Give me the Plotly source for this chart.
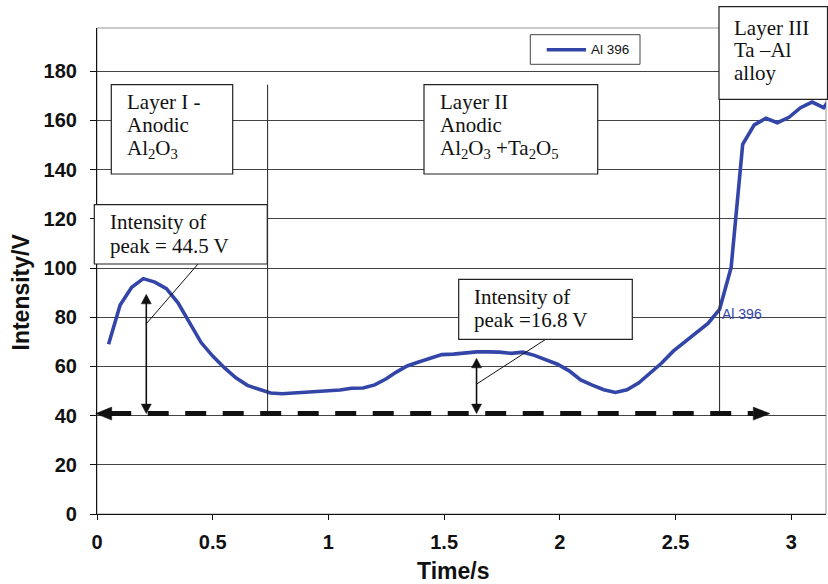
import plotly.graph_objects as go

# Al 396 emission intensity during the depth profile
time_s = [0.05, 0.10, 0.15, 0.20, 0.25, 0.30, 0.35, 0.40, 0.45, 0.50,
          0.55, 0.60, 0.65, 0.70, 0.75, 0.80, 0.85, 0.90, 0.95, 1.00,
          1.05, 1.10, 1.15, 1.20, 1.25, 1.29, 1.34, 1.39, 1.44, 1.49,
          1.54, 1.59, 1.64, 1.69, 1.74, 1.79, 1.84, 1.89, 1.94, 1.99,
          2.04, 2.09, 2.14, 2.19, 2.24, 2.29, 2.34, 2.39, 2.44, 2.49,
          2.54, 2.59, 2.64, 2.69, 2.74, 2.79, 2.84, 2.89, 2.94, 2.99,
          3.04, 3.09, 3.14, 3.19]
al396 = [69.0, 85.0, 92.2, 95.7, 94.3, 91.6, 85.9, 77.8, 69.7, 64.2,
         59.5, 55.4, 52.3, 50.7, 49.2, 48.9, 49.2, 49.6, 50.1, 50.3,
         50.4, 51.1, 51.2, 52.5, 55.0, 57.5, 60.2, 61.8, 63.4, 64.8,
         65.0, 65.4, 65.9, 65.9, 65.8, 65.3, 65.8, 64.5, 62.8, 60.9,
         58.2, 54.5, 52.4, 50.5, 49.4, 50.5, 53.2, 57.2, 61.4, 66.2,
         70.0, 73.8, 77.5, 83.2, 100.2, 150.3, 158.2, 160.9, 159.1, 161.3,
         165.2, 167.5, 165.2, 172.0]
series_name = "Al 396"

y_ticks = [0, 20, 40, 60, 80, 100, 120, 140, 160, 180]
x_ticks = [0, 0.5, 1, 1.5, 2, 2.5, 3]
x_tick_labels = ["0", "0.5", "1", "1.5", "2", "2.5", "3"]

# layer boundaries (s), baseline level and peak arrows (time, tip level)
layer_bounds = [0.737, 2.69]
baseline = 40
peak_arrows = [(0.213, 89.3), (1.64, 63.3)]
label_time = 2.69

W, H = 828, 584
L, R, T, B = 97, 826, 28, 514
X_RANGE = [0, 3.15]
Y_RANGE = [0, 197.6]
BLUE = "#3346A8"
SERIF = "Liberation Serif, Times New Roman, serif"
SANS = "Liberation Sans, Arial, sans-serif"


def xpx(v):
    return L + (v - X_RANGE[0]) / (X_RANGE[1] - X_RANGE[0]) * (R - L)


def ypx(v):
    return B - (v - Y_RANGE[0]) / (Y_RANGE[1] - Y_RANGE[0]) * (B - T)


def pxp(p):
    return (p - L) / (R - L)


def pyp(p):
    return (B - p) / (B - T)


fig = go.Figure()
fig.add_trace(go.Scatter(
    x=time_s, y=al396, mode="lines", name=series_name,
    line=dict(color=BLUE, width=3.6), showlegend=False,
))

shapes = []


def line_px(x0, y0, x1, y1, color="#111", width=1.0, dash=None):
    d = dict(type="line", xref="paper", yref="paper",
             x0=pxp(x0), y0=pyp(y0), x1=pxp(x1), y1=pyp(y1),
             line=dict(color=color, width=width), layer="above")
    if dash:
        d["line"]["dash"] = dash
    shapes.append(d)


def rect_px(x0, y0, x1, y1, color="#222", width=1.2):
    shapes.append(dict(type="rect", xref="paper", yref="paper",
                       x0=pxp(x0), y0=pyp(y0), x1=pxp(x1), y1=pyp(y1),
                       line=dict(color=color, width=width),
                       fillcolor="white", layer="above"))


def tri_px(pts, color="#111"):
    path = "M " + " L ".join(f"{pxp(a):.5f},{pyp(b):.5f}" for a, b in pts) + " Z"
    shapes.append(dict(type="path", xref="paper", yref="paper", path=path,
                       fillcolor=color, line=dict(color=color, width=0.5),
                       layer="above"))


# plot-area frame (top and right edges grey)
shapes.append(dict(type="rect", xref="paper", yref="paper", x0=0, y0=0, x1=1, y1=1,
                   line=dict(color="#999", width=1), layer="below"))

# layer boundaries
base_y = ypx(baseline) - 2
line_px(xpx(layer_bounds[0]), 84.7, xpx(layer_bounds[0]), base_y, "#333", 1.1)
line_px(xpx(layer_bounds[1]), 99.3, xpx(layer_bounds[1]), base_y, "#333", 1.1)

# dashed baseline with arrowheads at both ends
line_px(110.2, base_y, 753.5, base_y, "#111", 5, dash="21px,16.5px")
tri_px([(95.7, base_y), (111.7, base_y - 6.5), (111.7, base_y + 6.5)])
tri_px([(770, base_y), (753.3, base_y - 6.5), (753.3, base_y + 6.5)])

# double-headed arrows giving the peak intensities
for t, tip in peak_arrows:
    xa = xpx(t)
    top = ypx(tip)
    line_px(xa, top + 6, xa, base_y - 6, "#111", 1.6)
    tri_px([(xa, top), (xa - 5, top + 9.5), (xa + 5, top + 9.5)])
    tri_px([(xa, base_y), (xa - 5, base_y - 9.5), (xa + 5, base_y - 9.5)])

# leader lines from note boxes
line_px(198, 264, 146.7, 323.3, "#111", 1)
line_px(545.7, 339.3, 476.7, 384, "#111", 1)

# note boxes
rect_px(111.3, 84.7, 232.7, 174)
rect_px(424, 84.7, 597.7, 174)
rect_px(719, 6.7, 827.5, 99.3)
rect_px(94.3, 204.7, 267.3, 264)
rect_px(458.7, 279.3, 632.3, 339.3)

# legend box
rect_px(530.3, 34.7, 640, 64.3, "#444", 1)
line_px(546.7, 49.7, 586, 49.7, BLUE, 3.6)

annotations = []
FS = 21


def text_lines(x_left, baselines, lines):
    for yb, txt in zip(baselines, lines):
        annotations.append(dict(
            xref="paper", yref="paper", x=pxp(x_left - 1), y=pyp(yb - 0.3375 * FS),
            xanchor="left", yanchor="middle", showarrow=False, text=txt,
            font=dict(family=SERIF, size=FS, color="#111"),
        ))


text_lines(126, [109, 132.5, 156], ["Layer I -", "Anodic", "Al<sub>2</sub>O<sub>3</sub>"])
text_lines(438.7, [109, 132.5, 156],
           ["Layer II", "Anodic", "Al<sub>2</sub>O<sub>3</sub> +Ta<sub>2</sub>O<sub>5</sub>"])
text_lines(733.3, [35, 57.5, 80], ["Layer III", "Ta –Al", "alloy"])
text_lines(109.3, [229.3, 252.7], ["Intensity of", "peak = 44.5 V"])
text_lines(473.3, [304.5, 327.5], ["Intensity of", "peak =16.8 V"])

# legend text
annotations.append(dict(xref="paper", yref="paper", x=pxp(588.5), y=pyp(49.7),
                        xanchor="left", yanchor="middle", showarrow=False,
                        text=series_name, font=dict(family=SANS, size=13.5, color="#111")))

# data label on the curve at the layer II / III boundary
i_lab = time_s.index(label_time)
annotations.append(dict(x=time_s[i_lab], y=al396[i_lab], xref="x", yref="y",
                        xanchor="left", yanchor="middle", showarrow=False,
                        xshift=0, yshift=-4.5, text=series_name,
                        font=dict(family=SANS, size=14, color=BLUE)))

# axis titles
annotations.append(dict(xref="paper", yref="paper", x=pxp(20), y=pyp(292.5),
                        xanchor="center", yanchor="middle", showarrow=False,
                        text="Intensity/V", textangle=-90,
                        font=dict(family=SANS, size=23, color="#111", weight="bold")))
annotations.append(dict(xref="paper", yref="paper", x=pxp(453), y=pyp(571),
                        xanchor="center", yanchor="middle", showarrow=False,
                        text="Time/s",
                        font=dict(family=SANS, size=23, color="#111", weight="bold")))

fig.update_layout(
    width=W, height=H,
    margin=dict(l=L, r=W - R, t=T, b=H - B),
    paper_bgcolor="white", plot_bgcolor="white",
    showlegend=False,
    shapes=shapes, annotations=annotations,
    xaxis=dict(
        range=X_RANGE, tickvals=x_ticks, ticktext=x_tick_labels,
        showgrid=False, zeroline=False,
        showline=True, linecolor="#111", linewidth=1.2,
        ticks="outside", ticklen=5, tickcolor="#111", tickwidth=1,
        ticklabelstandoff=5,
        tickfont=dict(family=SANS, size=20, color="#111", weight="bold"),
    ),
    yaxis=dict(
        range=Y_RANGE, tickvals=y_ticks,
        showgrid=True, gridcolor="#444", gridwidth=1, zeroline=False,
        showline=True, linecolor="#111", linewidth=1.2,
        ticks="outside", ticklen=6, tickcolor="#111", tickwidth=1,
        ticklabelstandoff=9,
        tickfont=dict(family=SANS, size=20, color="#111", weight="bold"),
    ),
)

fig.write_html("out.html")
